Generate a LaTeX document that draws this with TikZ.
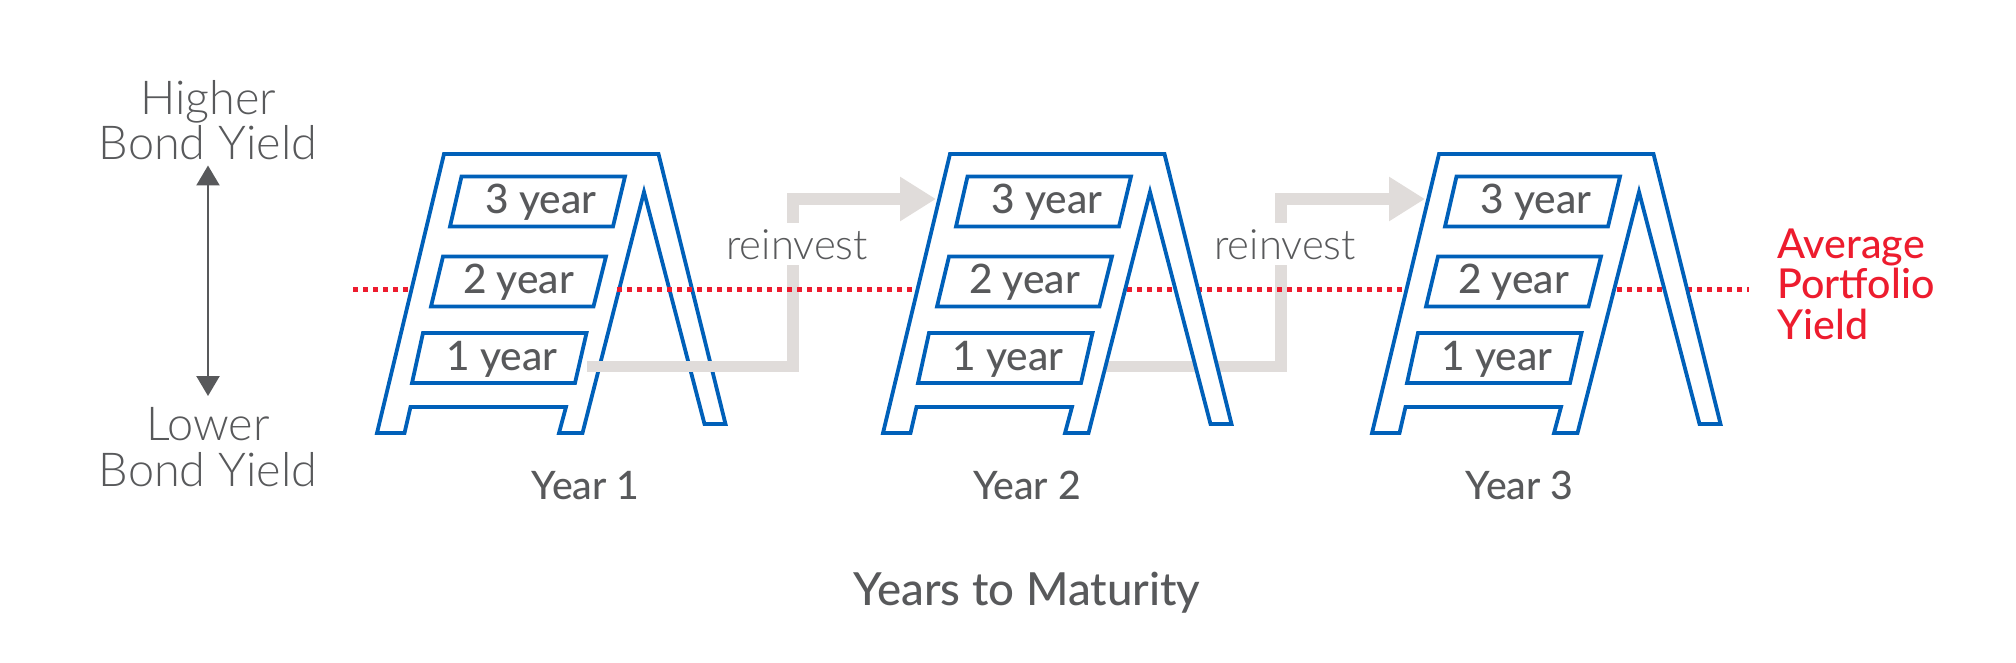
\documentclass[tikz,border=0pt]{standalone}
\usepackage{fontspec}
\setmainfont{Lato}[UprightFont=* Medium]
\newfontfamily\lightfont[UprightFont=* Light]{Lato}
\usetikzlibrary{arrows.meta}
\definecolor{ladderblue}{RGB}{0,96,185}
\definecolor{textgrey}{RGB}{88,89,91}
\definecolor{flowgrey}{RGB}{224,220,218}
\definecolor{yieldred}{RGB}{237,28,46}
\tikzset{%
  % Specifications for style of nodes:
        base/.style = {inner sep=0pt, anchor=base, text=textgrey},
    rungtext/.style = {base, yshift=-0.6pt, font=\fontsize{20.3}{24}\selectfont},
    yeartext/.style = {base, yshift=-0.4pt, font=\fontsize{19.6}{24}\selectfont},
   axistitle/.style = {base, yshift=-0.9pt, font=\fontsize{22.8}{26}\selectfont},
    sidetext/.style = {base, yshift=-1.4pt, align=center, font=\lightfont\fontsize{23.4}{26}\selectfont},
  reinvtext/.style = {base, fill=white, text height=18pt, text depth=3pt,
                      font=\lightfont\fontsize{20.9}{24}\selectfont},
    avgtext/.style = {inner sep=0pt, anchor=base west, align=left, text=yieldred, yshift=-0.6pt,
                      font=\fontsize{20.6}{20.25}\selectfont},
  % Specifications for style of lines:
   ladderline/.style = {draw=ladderblue, fill=white, line width=1.9pt, line join=miter},
  reinvestline/.style = {draw=flowgrey, line width=5.6pt,
                         -{Triangle[length=18pt,width=21pt]}},
    yieldline/.style = {draw=yieldred, line width=2.5pt, dash pattern=on 2.5pt off 2.5pt},
     axisline/.style = {draw=textgrey, line width=1.2pt,
                        {Triangle[length=10pt,width=11.5pt]}-{Triangle[length=10pt,width=11.5pt]}},
}
% #1 name, #2 shift in pixels
\newcommand{\drawladder}[2]{
  \begin{scope}[shift={(#2,0)}]
    \draw[ladderline] (377,433) -- (444,154) -- (658.5,154) -- (725.5,424) -- (704.5,424)
      -- (644,192) -- (582.5,433) -- (559,433) -- (566,407) -- (410.5,407) -- (404.5,433) -- cycle;
    \draw[ladderline] (461.5,176.5) -- (625,176.5) -- (613,226.5) -- (450,226.5) -- cycle;
    \draw[ladderline] (443,256.5) -- (606,256.5) -- (593.5,306.5) -- (431,306.5) -- cycle;
    \draw[ladderline] (423,333) -- (586.5,333) -- (575,383) -- (412,383) -- cycle;
    \node (#1three) [rungtext] at (541,212.5) {3 year};
    \node (#1two)   [rungtext] at (518.5,292.5) {2 year};
    \node (#1one)   [rungtext] at (502,369) {1 year};
    \coordinate (#1out) at (587,366.5);
    \coordinate (#1in) at (430,199);
  \end{scope}
}

\begin{document}
\begin{tikzpicture}[x=0.5pt, y=-0.5pt]
  \useasboundingbox (0,0) rectangle (2016,663);
  % Specification of nodes on the left
  \node (higher) [sidetext] at (208,111.7) {Higher};
  \node (bondhi) [sidetext] at (208,157) {Bond Yield};
  \node (lower)  [sidetext] at (208,438) {Lower};
  \node (bondlo) [sidetext] at (208,484) {Bond Yield};
  \coordinate (axistop) at (208,165.5);
  \coordinate (axisbot) at (208,396);
  \draw[axisline] (axistop) -- (axisbot);

  % Ladders and lines between them, in the order they overlap
  \coordinate (yieldstart) at (353,289);
  \coordinate (yieldmid) at (617,289);
  \coordinate (yieldend) at (1749,289);
  \coordinate (yieldhid) at (420,289);
  \draw[yieldline] (yieldstart) -- (yieldhid);
  \drawladder{ladone}{0}
  \coordinate (ladtwoin) at (936,199);
  \coordinate (ladthreein) at (1425,199);
  \coordinate (ladtwoout) at (1093,366.5);
  \coordinate (elbowa) at (793,199);
  \coordinate (elbowb) at (1281,199);
  \draw[reinvestline] (ladoneout) -| (elbowa) -- (ladtwoin);
  \draw[reinvestline] (ladtwoout) -| (elbowb) -- (ladthreein);
  \node (reinvesta) [reinvtext] at (797,259) {reinvest};
  \node (reinvestb) [reinvtext] at (1285,259) {reinvest};
  \draw[yieldline] (yieldmid) -- (yieldend);
  \drawladder{ladtwo}{506}
  \drawladder{ladthree}{995}

  % Specification of the remaining labels
  \node (yearone)   [yeartext] at (585.5,499) {Year 1};
  \node (yeartwo)   [yeartext] at (1027,499) {Year 2};
  \node (yearthree) [yeartext] at (1519.5,499) {Year 3};
  \node (maturity)  [axistitle] at (1027,604) {Years to Maturity};
  \node (average)   [avgtext] at (1777,338) {Average\\Portfolio\\Yield};
\end{tikzpicture}
\end{document}
